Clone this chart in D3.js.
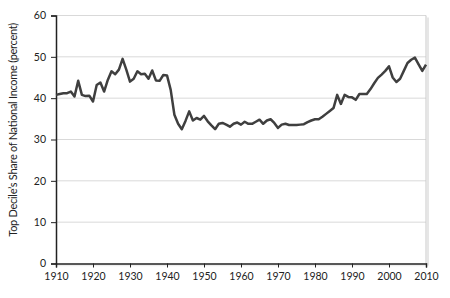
<!DOCTYPE html>
<html>
<head>
<meta charset="utf-8">
<script src="https://cdn.jsdelivr.net/npm/d3@7.9.0/dist/d3.min.js"></script>
<style>
  body { margin: 0; background: #fff; }
  text { font-family: Lato, "Open Sans", sans-serif; fill: #222; }
</style>
</head>
<body>
<svg width="450" height="298"></svg>
<script>
// years 1910..2010, top decile share (percent)
const years = d3.range(1910, 2011);
const shares = [
  40.8, 41.0, 41.2, 41.2, 41.6, 40.4, 44.2, 40.8, 40.5, 40.6, // 1910s
  39.2, 43.2, 43.8, 41.6, 44.4, 46.5, 45.8, 46.9, 49.5, 46.9, // 1920s
  44.0, 44.7, 46.5, 45.8, 45.9, 44.7, 46.7, 44.3, 44.2, 45.6, // 1930s
  45.5, 42.0, 36.0, 33.8, 32.5, 34.5, 36.8, 34.6, 35.2, 34.8, // 1940s
  35.7, 34.4, 33.4, 32.5, 33.8, 34.0, 33.6, 33.1, 33.8, 34.1, // 1950s
  33.6, 34.3, 33.8, 33.8, 34.3, 34.8, 33.8, 34.6, 34.9, 34.0, // 1960s
  32.8, 33.6, 33.8, 33.5, 33.5, 33.5, 33.6, 33.7, 34.2, 34.6, // 1970s
  34.9, 34.9, 35.5, 36.2, 36.9, 37.6, 40.8, 38.6, 40.8, 40.3, // 1980s
  40.2, 39.6, 41.0, 41.0, 41.0, 42.2, 43.6, 44.9, 45.7, 46.6, // 1990s
  47.7, 45.0, 43.9, 44.7, 46.6, 48.5, 49.3, 49.8, 48.2, 46.6, // 2000s
  48.1
];
const xTicks = d3.range(1910, 2011, 10);
const yTicks = [0, 10, 20, 30, 40, 50, 60];

const svg = d3.select('svg');
const mLeft = 56, mRight = 426, mTop = 15.5, mBottom = 263.5;

const x = d3.scaleLinear().domain([1910, 2010]).range([mLeft, mRight]);
const y = d3.scaleLinear().domain([0, 60]).range([mBottom, mTop]);

// gridlines
svg.append('g')
  .selectAll('line')
  .data(yTicks.filter(d => d > 0))
  .join('line')
  .attr('x1', mLeft).attr('x2', mRight)
  .attr('y1', d => y(d)).attr('y2', d => y(d))
  .attr('stroke', '#d9d9d9').attr('stroke-width', 1);

// right frame with a soft shadow
svg.append('line')
  .attr('x1', mRight + 2).attr('x2', mRight + 2)
  .attr('y1', mTop + 2).attr('y2', mBottom + 2)
  .attr('stroke', '#e6e6e6').attr('stroke-width', 2);
svg.append('line')
  .attr('x1', mLeft).attr('x2', mRight + 2)
  .attr('y1', mBottom + 2).attr('y2', mBottom + 2)
  .attr('stroke', '#eeeeee').attr('stroke-width', 1.5);
svg.append('line')
  .attr('x1', mRight).attr('x2', mRight)
  .attr('y1', mTop).attr('y2', mBottom)
  .attr('stroke', '#c8c8c8').attr('stroke-width', 1);

// axes
const yAxis = svg.append('g')
  .attr('transform', `translate(${mLeft},0)`)
  .call(d3.axisLeft(y).tickValues(yTicks).tickSize(5).tickPadding(5));
const xAxis = svg.append('g')
  .attr('transform', `translate(0,${mBottom})`)
  .call(d3.axisBottom(x).tickValues(xTicks).tickFormat(d3.format('d')).tickSize(4).tickPadding(5));

[yAxis, xAxis].forEach(g => {
  g.select('.domain').attr('stroke', '#222').attr('stroke-width', 1.5);
  g.selectAll('.tick line').attr('stroke', '#222');
  g.selectAll('.tick text').attr('font-size', 10.5).attr('fill', '#222')
    .attr('font-family', 'Lato, "Open Sans", sans-serif');
});

// line
const line = d3.line()
  .x((d, i) => x(years[i]))
  .y(d => y(d));

svg.append('path')
  .datum(shares)
  .attr('d', line)
  .attr('fill', 'none')
  .attr('stroke', '#3f3f3f')
  .attr('stroke-width', 2.5)
  .attr('stroke-linejoin', 'round');

// y label
svg.append('text')
  .attr('transform', `translate(16.5,129.7) rotate(-90)`)
  .attr('text-anchor', 'middle')
  .attr('font-size', 11)
  .attr('textLength', 214)
  .attr('lengthAdjust', 'spacing')
  .text("Top Decile’s Share of National Income (percent)");
</script>
</body>
</html>
